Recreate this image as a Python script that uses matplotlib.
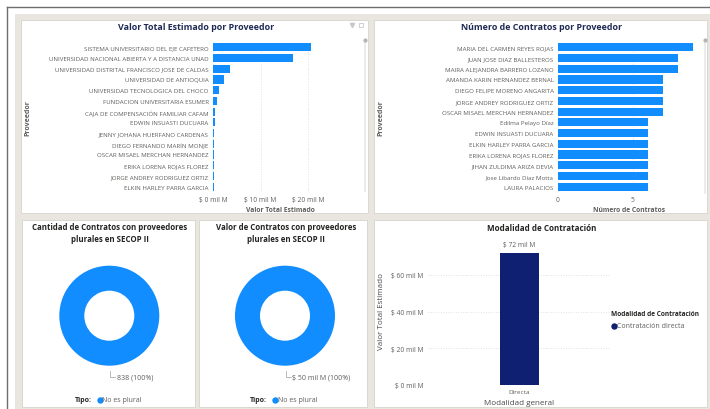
import matplotlib.pyplot as plt
from matplotlib.patches import Rectangle
from matplotlib.lines import Line2D

W, H = 710, 410
BEIGE = "#e8e6de"
BLUE = "#118dff"
NAVY = "#0f1f72"
GRAY_TXT = "#605e5c"
TITLE_NAVY = "#1f2a55"
DARK = "#252423"
GRID = "#d9d9d9"

# data
proveedores_valor = [
    "SISTEMA UNIVERSITARIO DEL EJE CAFETERO",
    "UNIVERSIDAD NACIONAL ABIERTA Y A DISTANCIA UNAD",
    "UNIVERSIDAD DISTRITAL FRANCISCO JOSE DE CALDAS",
    "UNIVERSIDAD DE ANTIOQUIA",
    "UNIVERSIDAD TECNOLOGICA DEL CHOCO",
    "FUNDACION UNIVERSITARIA ESUMER",
    "CAJA DE COMPENSACIÓN FAMILIAR CAFAM",
    "EDWIN INSUASTI DUCUARA",
    "JENNY JOHANA HUERFANO CARDENAS",
    "DIEGO FERNANDO MARÍN MONJE",
    "OSCAR MISAEL MERCHAN HERNANDEZ",
    "ERIKA LORENA ROJAS FLOREZ",
    "JORGE ANDREY RODRIGUEZ ORTIZ",
    "ELKIN HARLEY PARRA GARCIA",
]
valor_estimado = [20.6, 16.9, 3.6, 2.25, 1.3, 0.85, 0.5, 0.5, 0.3, 0.28, 0.25, 0.22, 0.2, 0.18]
ticks_valor = [0, 10, 20]

proveedores_contratos = [
    "MARIA DEL CARMEN REYES ROJAS",
    "JUAN JOSE DIAZ BALLESTEROS",
    "MAIRA ALEJANDRA BARRERO LOZANO",
    "AMANDA KARIN HERNANDEZ BERNAL",
    "DIEGO FELIPE MORENO ANGARITA",
    "JORGE ANDREY RODRIGUEZ ORTIZ",
    "OSCAR MISAEL MERCHAN HERNANDEZ",
    "Edilma Pelayo Díaz",
    "EDWIN INSUASTI DUCUARA",
    "ELKIN HARLEY PARRA GARCIA",
    "ERIKA LORENA ROJAS FLOREZ",
    "JIHAN ZULDIMA ARIZA DEVIA",
    "Jose Libardo Díaz Motta",
    "LAURA PALACIOS",
]
num_contratos = [9, 8, 8, 7, 7, 7, 7, 6, 6, 6, 6, 6, 6, 6]
ticks_contratos = [0, 5]

tipo_plural = ["No es plural"]
cantidad_plural = [838]
valor_plural = [50]

modalidad = ["Directa"]
valor_modalidad = [72]
ticks_modalidad = [0, 20, 40, 60]

plt.rcParams['font.family'] = ['Open Sans', 'DejaVu Sans']

fig = plt.figure(figsize=(W / 100, H / 100), dpi=100)
fig.patch.set_facecolor("white")


def fx(x):
    return x / W


def fy(y):
    return 1 - y / H


def rect(x0, y0, x1, y1, fc, ec="none", lw=0.0, z=-2):
    fig.add_artist(Rectangle((fx(x0), fy(y1)), (x1 - x0) / W, (y1 - y0) / H,
                             transform=fig.transFigure, facecolor=fc,
                             edgecolor=ec, linewidth=lw, zorder=z))


def line(xs, ys, color, lw=0.8, z=3):
    fig.add_artist(Line2D([fx(x) for x in xs], [fy(y) for y in ys],
                          transform=fig.transFigure, color=color, lw=lw, zorder=z))


def dot(x, y, color, ms=3.6, marker="o", **kw):
    fig.add_artist(Line2D([fx(x)], [fy(y)], marker=marker, ms=ms, color=color,
                          linestyle="none", transform=fig.transFigure, zorder=3, **kw))


def text(x, y, s, **kw):
    fig.text(fx(x), fy(y), s, **kw)


def ax_px(x0, y0, x1, y1):
    a = fig.add_axes([fx(x0), fy(y1), (x1 - x0) / W, (y1 - y0) / H])
    a.patch.set_alpha(0)
    return a


# background + frame
rect(15, 15, 710, 410, BEIGE, z=-3)
line([7, 7], [8, 410], "#6e6e6e", lw=1.0)
line([7, 710], [8, 8], "#6e6e6e", lw=1.0)

# panels
for p in [(21, 21, 368, 214), (374, 21, 707, 214), (22, 221, 195, 408),
          (199, 221, 367, 408), (374, 221, 707, 408)]:
    rect(*p, "white", ec="#d6d4cc", lw=0.6, z=-2)

# scrollbars and little icons
rect(363.5, 40, 366, 193, "#ececec", z=-1)
rect(703.5, 40, 706, 195, "#ececec", z=-1)
dot(364.7, 41, "#b4b4b4", ms=2)
dot(704.7, 41, "#b4b4b4", ms=2)
dot(352, 25.5, "#c8c8c8", ms=3, marker="v")
dot(361, 25.5, "#c8c8c8", ms=3, marker="s", mfc="none", mew=0.6)


def style_hbar(ax, xmax, labels, ticks, ticklabels):
    ax.set_ylim(len(labels) - 0.5, -0.5)
    ax.set_xlim(0, xmax)
    ax.set_yticks(range(len(labels)))
    ax.set_yticklabels(labels, fontsize=4.4, color=GRAY_TXT)
    ax.set_xticks(ticks)
    ax.set_xticklabels(ticklabels, fontsize=4.8, color=GRAY_TXT)
    ax.tick_params(length=0, pad=3.2)
    for s in ax.spines.values():
        s.set_visible(False)
    ax.grid(axis="x", color=GRID, linestyle=(0, (1, 2)), linewidth=0.6)
    ax.set_axisbelow(True)


# top-left: valor por proveedor
ax1 = ax_px(213, 43, 346, 193)
ax1.barh(range(len(valor_estimado)), valor_estimado, height=0.75, color=BLUE)
style_hbar(ax1, 28, proveedores_valor, ticks_valor,
           ["$ %d mil M" % t for t in ticks_valor])
text(196, 28, "Valor Total Estimado por Proveedor", fontsize=6.4, fontweight="bold",
     color=TITLE_NAVY, ha="center", va="center")
text(280, 211, "Valor Total Estimado", fontsize=4.9, fontweight="bold",
     color=GRAY_TXT, ha="center", va="center")
text(28, 118, "Proveedor", fontsize=5.0, fontweight="bold", color=GRAY_TXT,
     ha="center", va="center", rotation=90)

# top-right: numero de contratos por proveedor
ax2 = ax_px(558, 43, 700, 193)
ax2.barh(range(len(num_contratos)), num_contratos, height=0.75, color=BLUE)
style_hbar(ax2, 9.5, proveedores_contratos, ticks_contratos,
           [str(t) for t in ticks_contratos])
text(542, 28, "Número de Contratos por Proveedor", fontsize=6.4, fontweight="bold",
     color=TITLE_NAVY, ha="center", va="center")
text(629, 211, "Número de Contratos", fontsize=4.9, fontweight="bold",
     color=GRAY_TXT, ha="center", va="center")
text(381, 118, "Proveedor", fontsize=5.0, fontweight="bold", color=GRAY_TXT,
     ha="center", va="center", rotation=90)


def donut(cx, cy, values, title, label, legend_x):
    ax = ax_px(cx - 55, cy - 55, cx + 55, cy + 55)
    ax.pie(values, radius=1.0, colors=[BLUE], startangle=90, counterclock=False,
           wedgeprops=dict(width=0.5, edgecolor="white", linewidth=0))
    ax.set_xlim(-1.1, 1.1)
    ax.set_ylim(-1.1, 1.1)
    ax.set_aspect("equal")
    ax.axis("off")
    text(cx + 0.7, 233.5, title, fontsize=5.65, fontweight="bold", color=DARK,
         ha="center", va="center", linespacing=1.45)
    line([cx + 0.7, cx + 0.7, cx + 5.5], [371.5, 377.5, 377.5], "#b0b0b0", lw=0.6)
    text(cx + 7.5, 377.8, label, fontsize=5.0, color=GRAY_TXT, ha="left", va="center")
    text(legend_x, 401, "Tipo:", fontsize=5.0, fontweight="bold", color=DARK,
         ha="left", va="center")
    dot(legend_x + 25, 401, BLUE)
    text(legend_x + 27.5, 401, tipo_plural[0], fontsize=5.0, color=GRAY_TXT,
         ha="left", va="center")


donut(109.3, 316.7, cantidad_plural,
      "Cantidad de Contratos con proveedores\nplurales en SECOP II",
      "%d (100%%)" % cantidad_plural[0], 75)
donut(285, 316.7, valor_plural,
      "Valor de Contratos con proveedores\nplurales en SECOP II",
      "$ %d mil M (100%%)" % valor_plural[0], 250)

# bottom-right: modalidad de contratacion
ax5 = ax_px(428, 239.3, 611, 386)
ax5.bar(range(len(modalidad)), valor_modalidad, width=0.213, color=NAVY)
ax5.set_xlim(-0.5, 0.5)
ax5.set_ylim(0, 80)
ax5.set_yticks(ticks_modalidad)
ax5.set_yticklabels(["$ %d mil M" % t for t in ticks_modalidad], fontsize=4.8, color=GRAY_TXT)
ax5.set_xticks(range(len(modalidad)))
ax5.set_xticklabels(modalidad, fontsize=4.6, color=GRAY_TXT)
ax5.tick_params(length=0, pad=3.0)
for s in ax5.spines.values():
    s.set_visible(False)
ax5.grid(axis="y", color=GRID, linestyle=(0, (1, 2)), linewidth=0.6)
ax5.set_axisbelow(True)
for i, v in enumerate(valor_modalidad):
    ax5.annotate("$ %d mil M" % v, (i, v), xytext=(0, 3.5), textcoords="offset points",
                 ha="center", va="bottom", fontsize=4.8, color=GRAY_TXT)
text(541.7, 228.5, "Modalidad de Contratación", fontsize=5.8, fontweight="bold",
     color=DARK, ha="center", va="center")
text(519.5, 403.5, "Modalidad general", fontsize=5.8, color="#4a4a4a",
     ha="center", va="center")
text(381.7, 312, "Valor Total Estimado", fontsize=5.8, color="#4a4a4a",
     ha="center", va="center", rotation=90)
text(611, 315, "Modalidad de Contratación", fontsize=4.7, fontweight="bold",
     color=DARK, ha="left", va="center")
dot(614.3, 327, NAVY)
text(617, 327, "Contratación directa", fontsize=5.0, color=GRAY_TXT, ha="left", va="center")

fig.savefig("out.png", dpi=100)
